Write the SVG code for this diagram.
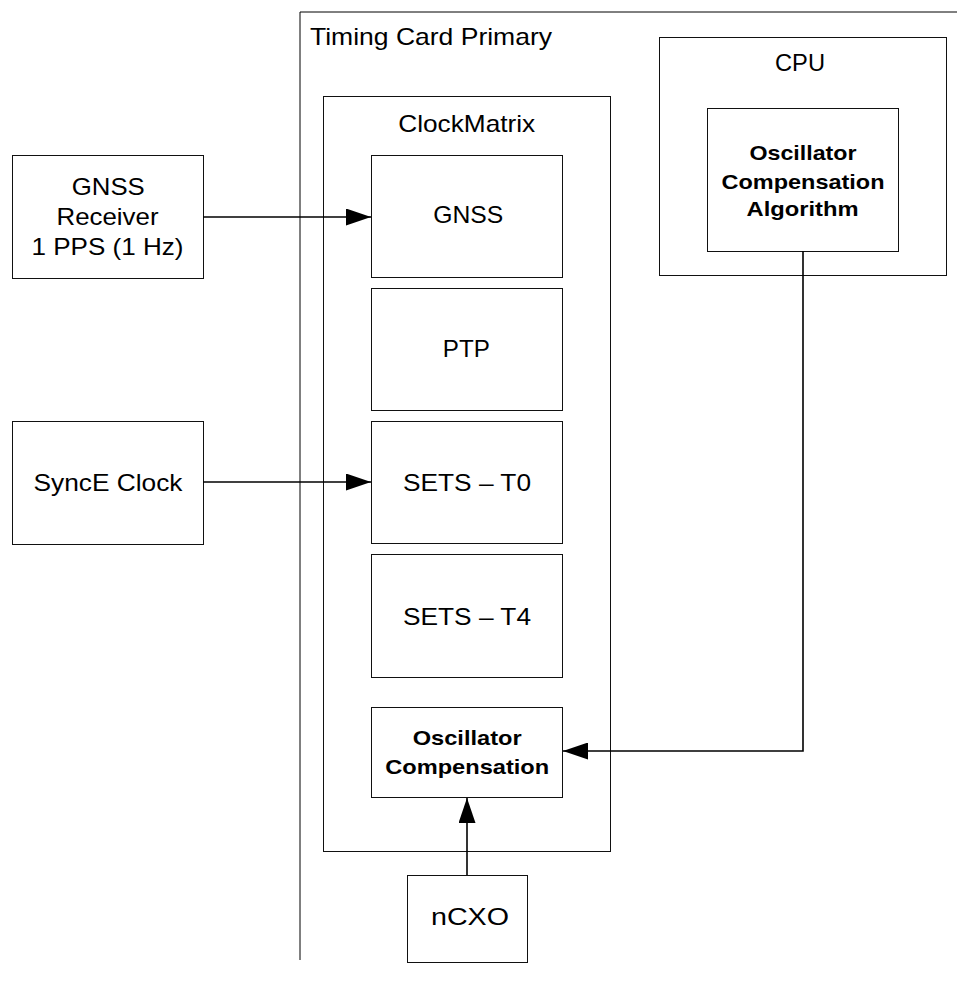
<svg xmlns="http://www.w3.org/2000/svg" width="957" height="990" viewBox="0 0 957 990">
<style>
.box{fill:#fff;stroke:#111;stroke-width:1}
.t{font-family:"Liberation Sans",Arial,sans-serif;font-size:24px;fill:#000;text-anchor:middle}
.b{font-family:"Liberation Sans",Arial,sans-serif;font-size:21px;font-weight:bold;fill:#000;text-anchor:middle}
.c{fill:none;stroke:#000;stroke-width:1.6}
</style>
<defs>
<marker id="ah" markerWidth="25" markerHeight="17" refX="25" refY="8.5" orient="auto" markerUnits="userSpaceOnUse">
<path d="M0,0 L25,8.5 L0,17 Z" fill="#000"/>
</marker>
</defs>
<rect width="957" height="990" fill="#fff"/>
<g id="timing-card">
<path d="M300,960 V12 H957" fill="none" stroke="#000" stroke-width="1"/>
<text x="310" y="45" class="t" style="text-anchor:start" textLength="242" lengthAdjust="spacingAndGlyphs">Timing Card Primary</text>
</g>
<g id="clockmatrix">
<rect x="323.5" y="96.5" width="287" height="755" class="box"/>
<text x="466.7" y="132" class="t" textLength="137" lengthAdjust="spacingAndGlyphs">ClockMatrix</text>
</g>
<g id="cpu">
<rect x="659.5" y="37.5" width="287" height="238" class="box"/>
<text x="800" y="71" class="t" textLength="50" lengthAdjust="spacingAndGlyphs">CPU</text>
</g>
<g id="algorithm">
<rect x="707.5" y="108.5" width="191" height="143" class="box"/>
<text x="803" y="160" class="b" textLength="107" lengthAdjust="spacingAndGlyphs">Oscillator</text>
<text x="803" y="188.5" class="b" textLength="163" lengthAdjust="spacingAndGlyphs">Compensation</text>
<text x="802.5" y="216" class="b" textLength="112" lengthAdjust="spacingAndGlyphs">Algorithm</text>
</g>
<g id="gnss-receiver">
<rect x="12.5" y="155.5" width="191" height="123" class="box"/>
<text x="108.3" y="195" class="t" textLength="73" lengthAdjust="spacingAndGlyphs">GNSS</text>
<text x="107.5" y="225" class="t" textLength="102" lengthAdjust="spacingAndGlyphs">Receiver</text>
<text x="107.5" y="255" class="t" textLength="152" lengthAdjust="spacingAndGlyphs">1 PPS (1 Hz)</text>
</g>
<g id="synce-clock">
<rect x="12.5" y="421.5" width="191" height="123" class="box"/>
<text x="108" y="491" class="t" textLength="149" lengthAdjust="spacingAndGlyphs">SyncE Clock</text>
</g>
<g id="gnss">
<rect x="371.5" y="155.5" width="191" height="122" class="box"/>
<text x="468.3" y="223" class="t" textLength="70" lengthAdjust="spacingAndGlyphs">GNSS</text>
</g>
<g id="ptp">
<rect x="371.5" y="288.5" width="191" height="122" class="box"/>
<text x="466.3" y="357" class="t" textLength="47" lengthAdjust="spacingAndGlyphs">PTP</text>
</g>
<g id="sets-t0">
<rect x="371.5" y="421.5" width="191" height="122" class="box"/>
<text x="467" y="491" class="t" textLength="128" lengthAdjust="spacingAndGlyphs">SETS – T0</text>
</g>
<g id="sets-t4">
<rect x="371.5" y="554.5" width="191" height="123" class="box"/>
<text x="467" y="625" class="t" textLength="128" lengthAdjust="spacingAndGlyphs">SETS – T4</text>
</g>
<g id="osc-comp">
<rect x="371.5" y="707.5" width="191" height="90" class="box"/>
<text x="467.2" y="745" class="b" textLength="109" lengthAdjust="spacingAndGlyphs">Oscillator</text>
<text x="467.2" y="774" class="b" textLength="164" lengthAdjust="spacingAndGlyphs">Compensation</text>
</g>
<g id="ncxo">
<rect x="407.5" y="875.5" width="120" height="87" class="box"/>
<text x="470" y="925" class="t" textLength="78" lengthAdjust="spacingAndGlyphs">nCXO</text>
</g>
<g id="connectors">
<path d="M203,217 H371" class="c" marker-end="url(#ah)"/>
<path d="M203,482 H371" class="c" marker-end="url(#ah)"/>
<path d="M803,251 V751 H563" class="c" marker-end="url(#ah)"/>
<path d="M467,875 V798" class="c" marker-end="url(#ah)"/>
</g>
</svg>
